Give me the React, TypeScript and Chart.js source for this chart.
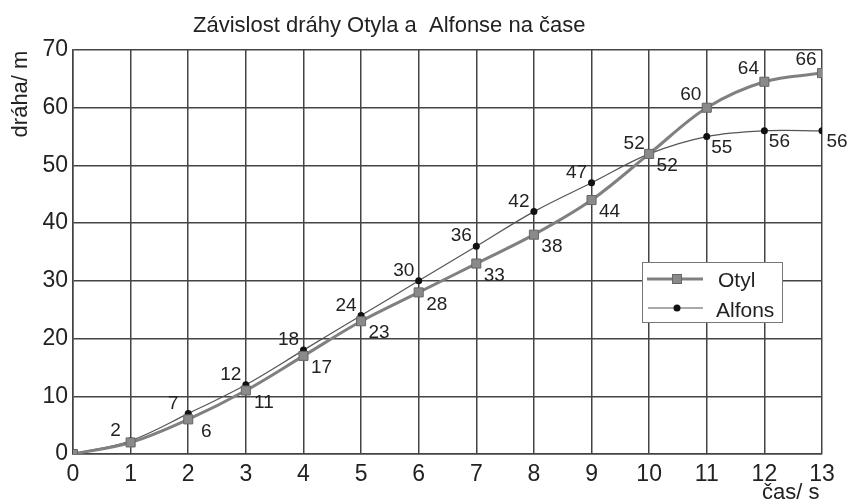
import React, { useEffect, useRef } from "react";
import { Chart, registerables } from "chart.js";

Chart.register(...registerables);

const times = [0, 1, 2, 3, 4, 5, 6, 7, 8, 9, 10, 11, 12, 13];
const otyl = [0, 2, 6, 11, 17, 23, 28, 33, 38, 44, 52, 60, 64.5, 66];
const alfons = [0, 2.3, 7, 12, 18, 24, 30, 36, 42, 47, 52, 55, 56, 56];
const otylLabels = [null, null, "6", "11", "17", "23", "28", "33", "38", "44", "52", "60", "64", "66"];
const alfonsLabels = [null, "2", "7", "12", "18", "24", "30", "36", "42", "47", "52", "55", "56", "56"];
const xTicks = [0, 13];
const yTicks = [0, 70];
const titleText = "Závislost dráhy Otyla a  Alfonse na čase";
const yTitle = "dráha/ m";
const xTitle = "čas/ s";
const seriesNames = ["Otyl", "Alfons"];

const FONT = "'Liberation Sans', Arial, sans-serif";

const textPlugin = {
  id: "customText",
  afterDatasetsDraw(chart: any) {
    const ctx = chart.ctx;
    ctx.save();
    ctx.fillStyle = "#222";
    ctx.font = `19px ${FONT}`;
    ctx.textAlign = "center";
    ctx.textBaseline = "middle";
    const sets = [otylLabels, alfonsLabels];
    sets.forEach((labels, di) => {
      const meta = chart.getDatasetMeta(di);
      labels.forEach((lab, i) => {
        if (lab == null) return;
        const el = meta.data[i];
        let dx: number, dy: number;
        if (di === 0) {
          if (i <= 10) { dx = 18; dy = 12; } else { dx = -16; dy = -13; }
        } else {
          if (i <= 10) { dx = -15; dy = -10; } else { dx = 15; dy = 11; }
        }
        ctx.fillText(lab, el.x + dx, el.y + dy);
      });
    });
    ctx.restore();
  },
  afterDraw(chart: any) {
    const ctx = chart.ctx;
    ctx.save();
    ctx.fillStyle = "#222";
    // title
    ctx.font = `22px ${FONT}`;
    ctx.textAlign = "left";
    ctx.textBaseline = "alphabetic";
    ctx.fillText(titleText, 193, 32);
    // x title
    ctx.fillText(xTitle, 762, 499);
    // y title
    ctx.save();
    ctx.translate(27, 94);
    ctx.rotate(-Math.PI / 2);
    ctx.textAlign = "center";
    ctx.fillText(yTitle, 0, 0);
    ctx.restore();
    // legend
    const bx = 642, by = 262, bw = 140, bh = 60;
    ctx.fillStyle = "#fff";
    ctx.fillRect(bx, by, bw, bh);
    ctx.strokeStyle = "#777";
    ctx.lineWidth = 1;
    ctx.strokeRect(bx + 0.5, by + 0.5, bw, bh);
    // Otyl
    ctx.strokeStyle = "#808080";
    ctx.lineWidth = 3;
    ctx.beginPath();
    ctx.moveTo(647, 279);
    ctx.lineTo(703, 279);
    ctx.stroke();
    ctx.fillStyle = "#8a8a8a";
    ctx.fillRect(672.5, 274.5, 9, 9);
    ctx.strokeStyle = "#666";
    ctx.lineWidth = 1;
    ctx.strokeRect(672.5, 274.5, 9, 9);
    // Alfons
    ctx.strokeStyle = "#555";
    ctx.lineWidth = 1.2;
    ctx.beginPath();
    ctx.moveTo(648, 308);
    ctx.lineTo(703, 308);
    ctx.stroke();
    ctx.fillStyle = "#111";
    ctx.beginPath();
    ctx.arc(677, 308, 3.5, 0, Math.PI * 2);
    ctx.fill();
    ctx.fillStyle = "#222";
    ctx.font = `21px ${FONT}`;
    ctx.textAlign = "left";
    ctx.fillText(seriesNames[0], 718, 287);
    ctx.fillText(seriesNames[1], 716, 317);
    ctx.restore();
  },
};

export default function App() {
  const ref = useRef<HTMLCanvasElement>(null);
  useEffect(() => {
    if (!ref.current) return;
    Chart.defaults.font.family = FONT;
    const chart = new Chart(ref.current, {
      type: "line",
      data: {
        datasets: [
          {
            label: seriesNames[0],
            data: times.map((t, i) => ({ x: t, y: otyl[i] })),
            borderColor: "#808080",
            borderWidth: 3,
            backgroundColor: "#8a8a8a",
            pointStyle: "rect",
            pointRadius: 6.4,
            pointBorderColor: "#666",
            pointBorderWidth: 1,
            tension: 0.35,
          },
          {
            label: seriesNames[1],
            data: times.map((t, i) => ({ x: t, y: alfons[i] })),
            borderColor: "#555",
            borderWidth: 1.2,
            backgroundColor: "#111",
            pointStyle: "circle",
            pointRadius: 3.5,
            pointBorderWidth: 0,
            tension: 0.35,
          },
        ],
      },
      options: {
        responsive: false,
        animation: false,
        layout: { padding: { top: 50, right: 26, left: 0, bottom: 0 } },
        plugins: {
          legend: { display: false },
          title: { display: false },
          tooltip: { enabled: false },
        },
        scales: {
          x: {
            type: "linear",
            min: xTicks[0],
            max: xTicks[1],
            ticks: { stepSize: 1, color: "#222", font: { size: 23, family: FONT }, padding: 7 },
            grid: { color: "#444", lineWidth: 1.5, drawTicks: false },
            border: { color: "#444", width: 1.5 },
            afterFit: (s: any) => { s.height = 50; },
          },
          y: {
            min: yTicks[0],
            max: yTicks[1],
            ticks: { stepSize: 10, color: "#222", font: { size: 23, family: FONT }, padding: 5 },
            grid: { color: "#444", lineWidth: 1.5, drawTicks: false },
            border: { color: "#444", width: 1.5 },
            afterFit: (s: any) => { s.width = 73; },
          },
        },
      },
      plugins: [textPlugin],
    } as any);
    return () => chart.destroy();
  }, []);
  return (
    <div style={{ position: "absolute", left: 0, top: 0, width: 848, height: 504, background: "#fff" }}>
      <canvas ref={ref} width={848} height={504} />
    </div>
  );
}
